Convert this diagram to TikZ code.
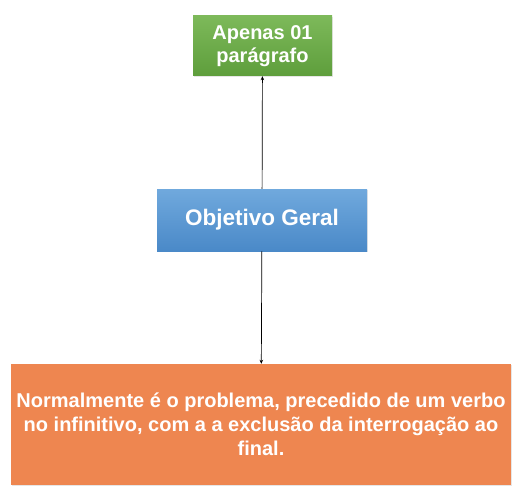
\documentclass[tikz,border=0pt]{standalone}
\usepackage{fontspec}
\setmainfont{Liberation Sans}
\usetikzlibrary{arrows.meta,shadows}

\definecolor{verdeA}{HTML}{7DB95A}
\definecolor{verdeB}{HTML}{5E9E3C}
\definecolor{azulA}{HTML}{70A9DD}
\definecolor{azulB}{HTML}{4A89C8}
\definecolor{laranja}{HTML}{EE8650}

\begin{document}
\begin{tikzpicture}[x=1pt,y=-1pt,
		caixa/.style={text=white, align=center, inner sep=0pt, font=\bfseries,
			drop shadow={opacity=0.2, shadow xshift=0.6pt, shadow yshift=-1pt}},
		seta/.style={-{Stealth[length=4pt,width=3.5pt]}, line width=0.7pt}]
		\useasboundingbox (0,0) rectangle (526,494);
		
		\node[caixa, top color=verdeA, bottom color=verdeB, minimum width=139pt, minimum height=60pt,
			font=\bfseries\fontsize{20}{23}\selectfont] (paragrafo) at (262.5,46) {Apenas 01\\parágrafo};
		\node[caixa, top color=azulA, bottom color=azulB, minimum width=210pt, minimum height=62pt,
			font=\bfseries\fontsize{22.5}{26}\selectfont] (objetivo) at (262,220) {Objetivo Geral};
		\node[caixa, fill=laranja, minimum width=500pt, minimum height=121pt,
			font=\bfseries\fontsize{20}{24}\selectfont] (descricao) at (261,424.5)
			{Normalmente é o problema, precedido de um verbo\\no infinitivo, com a a exclusão da interrogação ao\\final.};
		
		\draw[seta] (objetivo) -- (paragrafo);
		\draw[seta] (objetivo) -- (descricao);
	\end{tikzpicture}
\end{document}
